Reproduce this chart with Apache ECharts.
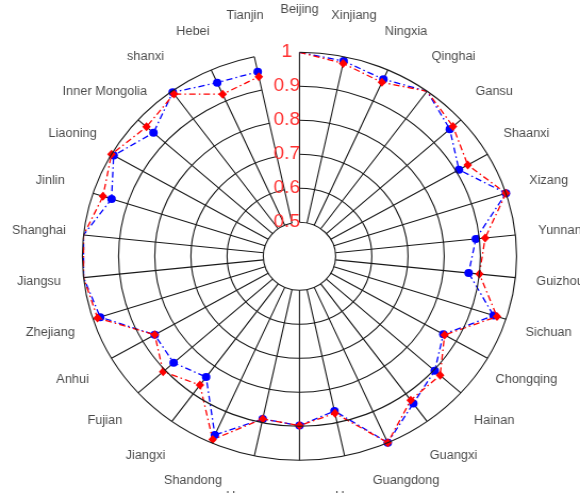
<!DOCTYPE html>
<html>
<head>
<meta charset="utf-8">
<script src="https://cdn.jsdelivr.net/npm/echarts@6/dist/echarts.min.js"></script>
<style>
  html, body { margin: 0; padding: 0; background: #ffffff; overflow: hidden; }
  /* the plot region is slightly wider than tall, so the polar chart is stretched horizontally */
  #chart { width: 545px; height: 493px; transform: scaleX(1.06422); transform-origin: 0 0; }
</style>
</head>
<body>
<div id="chart"></div>
<script>
// provinces, clockwise from the top
const provinces = ['Beijing', 'Xinjiang', 'Ningxia', 'Qinghai', 'Gansu', 'Shaanxi', 'Xizang',
  'Yunnan', 'Guizhou', 'Sichuan', 'Chongqing', 'Hainan', 'Guangxi', 'Guangdong', 'Hunan',
  'Hubei', 'Henan', 'Shandong', 'Jiangxi', 'Fujian', 'Anhui', 'Zhejiang', 'Jiangsu',
  'Shanghai', 'Jinlin', 'Liaoning', 'Inner Mongolia', 'shanxi', 'Hebei', 'Tianjin'];

// blue series (circles)
const blueValues = [1.000, 0.987, 0.970, 1.000, 0.959, 0.909, 1.000, 0.890, 0.870, 0.964,
  0.859, 0.903, 0.935, 1.000, 0.865, 0.898, 0.889, 0.975, 0.839, 0.868,
  0.862, 0.979, 1.000, 1.000, 0.946, 0.993, 0.943, 0.996, 0.959, 0.955];

// red series (diamonds)
const redValues = [1.000, 0.980, 0.960, 1.000, 0.971, 0.937, 1.000, 0.916, 0.900, 0.974,
  0.863, 0.923, 0.923, 1.000, 0.872, 0.898, 0.889, 0.990, 0.868, 0.907,
  0.862, 0.987, 1.000, 1.000, 0.971, 1.000, 0.969, 0.990, 0.922, 0.940];

// radial grid
const radialMin = 0.5;
const radialMax = 1.0;
const radialStep = 0.1;

const FONT = "'Liberation Sans', Arial, sans-serif";
const GRID_LINE = { color: '#1a1a1a', width: 1.1 };

// closed polygon: repeat the first province at the end
function closedLoop(values) {
  const pts = values.map((v, i) => [v, i]);
  pts.push([values[0], 0]);
  return pts;
}

const chart = echarts.init(document.getElementById('chart'), null, { renderer: 'canvas' });

chart.setOption({
  animation: false,
  backgroundColor: '#ffffff',
  polar: { center: [281.4, 256.3], radius: [34, 204] },
  angleAxis: {
    type: 'category',
    data: provinces,
    boundaryGap: false,
    startAngle: 90,
    clockwise: true,
    axisLine: { show: false },
    axisTick: { show: false, interval: 0 },
    axisLabel: { show: false, interval: 0 },
    splitLine: { show: true, interval: 0, lineStyle: GRID_LINE }
  },
  radiusAxis: {
    type: 'value',
    min: radialMin,
    max: radialMax,
    interval: radialStep,
    axisLine: { show: false },
    axisTick: { show: false },
    splitLine: { show: true, lineStyle: GRID_LINE },
    axisLabel: {
      show: true,
      color: '#ff3030',
      fontSize: 18,
      fontFamily: FONT,
      align: 'center',
      verticalAlign: 'middle',
      margin: 12
    },
    z: 5
  },
  series: [
    {
      type: 'line',
      coordinateSystem: 'polar',
      data: closedLoop(blueValues),
      symbol: 'circle',
      symbolSize: 8,
      itemStyle: { color: '#0000ff' },
      lineStyle: { color: '#0000ff', width: 1.3, type: [6, 3, 1.5, 3] },
      z: 3
    },
    {
      type: 'line',
      coordinateSystem: 'polar',
      data: closedLoop(redValues),
      symbol: 'diamond',
      symbolSize: [8, 9],
      itemStyle: { color: '#ff0000' },
      lineStyle: { color: '#ff0000', width: 1.3, type: [6, 3, 1.5, 3] },
      z: 4
    },
    {
      // province names around the rim
      type: 'scatter',
      coordinateSystem: 'polar',
      clip: false,
      silent: true,
      symbolSize: 0,
      data: provinces.map((p, i) => ({ name: p, value: [1.124, i] })),
      label: {
        show: true,
        position: 'inside',
        formatter: '{b}',
        color: '#1a1a1a',
        fontSize: 12,
        fontFamily: FONT
      },
      z: 2
    }
  ]
});
</script>
</body>
</html>
